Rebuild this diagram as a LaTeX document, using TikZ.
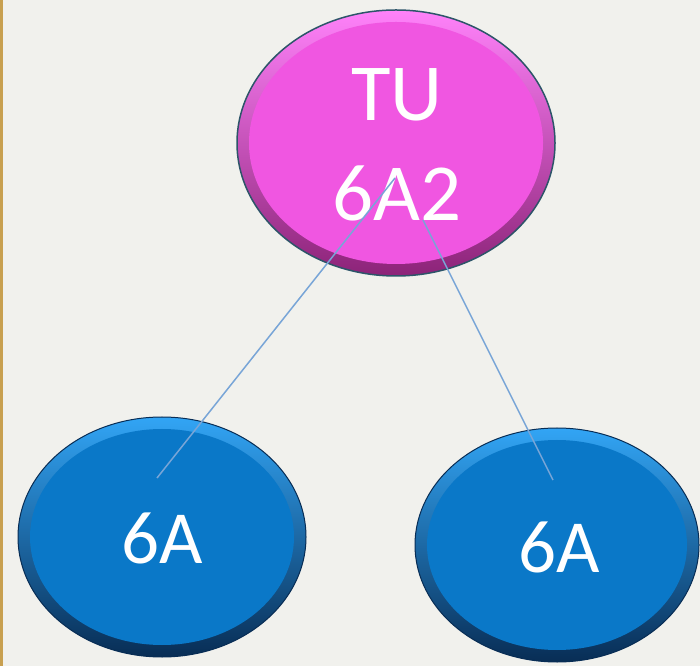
\documentclass[tikz,border=0pt]{standalone}
\usepackage{fontspec}
\setmainfont{Carlito}
\usetikzlibrary{shapes.geometric,calc}
\definecolor{paper}{RGB}{241,241,237}
\definecolor{goldline}{RGB}{200,160,80}
\definecolor{pinkmain}{RGB}{240,86,225}
\definecolor{pinklight}{RGB}{255,130,250}
\definecolor{pinkdark}{RGB}{140,35,120}
\definecolor{pinkrim}{RGB}{45,85,105}
\definecolor{bluemain}{RGB}{10,120,200}
\definecolor{bluelight}{RGB}{50,165,245}
\definecolor{bluedark}{RGB}{8,45,85}
\definecolor{linkblue}{RGB}{120,165,215}
\tikzset{
  bubble/.style={ellipse, inner sep=0pt, shading=axis, shading angle=35,
    path picture={
      \fill[#1] let \p1=(path picture bounding box.north east),
        \p2=(path picture bounding box.center) in
        (\p2) ellipse ({\x1-\x2-12pt} and {\y1-\y2-12pt});
    }},
  bubbletext/.style={text=white, align=center, inner sep=0pt},
  link/.style={draw=linkblue, line width=1.5pt}
}
\begin{document}
\begin{tikzpicture}[x=1pt,y=1pt]
  \fill[paper] (0,0) rectangle (700,666);
  \fill[goldline] (0,0) rectangle (3,666);
  \useasboundingbox (0,0) rectangle (700,666);

  \node[bubble=pinkmain, top color=pinklight, bottom color=pinkdark,
        draw=pinkrim, line width=1.5pt,
        minimum width=318pt, minimum height=266pt] (tu) at (396,523) {};
  \node[bubbletext, font=\fontsize{81}{100}\selectfont] (tu-text) at (397,521) {TU\\6A2};

  \node[bubble=bluemain, top color=bluelight, bottom color=bluedark,
        draw=bluedark, line width=1pt,
        minimum width=288pt, minimum height=240pt] (left) at (162,129) {};
  \node[bubbletext, font=\fontsize{75}{90}\selectfont] (left-text) at (162,128) {6A};

  \node[bubble=bluemain, top color=bluelight, bottom color=bluedark,
        draw=bluedark, line width=1pt,
        minimum width=284pt, minimum height=234pt] (right) at (557,121) {};
  \node[bubbletext, font=\fontsize{75}{90}\selectfont] (right-text) at (559,119) {6A};

  \draw[link] ($(tu)+(-1,-35)$) -- ($(left)+(-5,59)$);
  \draw[link] ($(tu)+(27,-77)$) -- ($(right)+(-4,65)$);
\end{tikzpicture}
\end{document}
